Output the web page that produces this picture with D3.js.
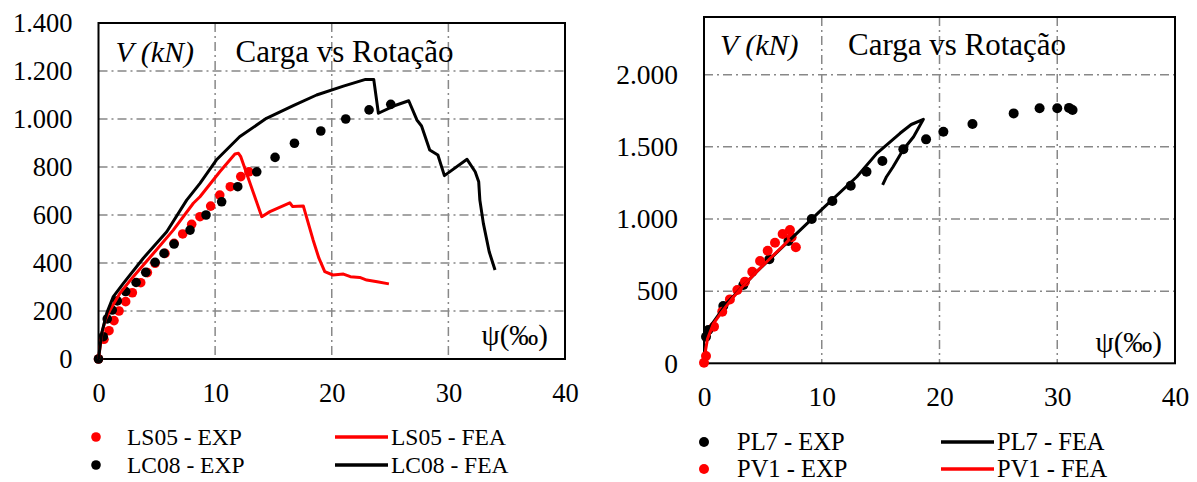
<!DOCTYPE html>
<html>
<head>
<meta charset="utf-8">
<script src="https://cdn.jsdelivr.net/npm/d3@7"></script>
<style>
  body { margin: 0; background: #fff; }
  svg { display: block; }
  text { font-family: "Liberation Serif", "Times New Roman", serif; fill: #000; }
</style>
</head>
<body>
<svg id="svg1" width="1197" height="482"></svg>
<script>
// ---- dados (psi em permilagem, V em kN) ----
var ls05Exp = [[0,0],[0.47,82],[0.9,118],[1.33,160],[1.76,200],[2.33,239],[2.9,276],[3.62,318],[4.19,360],[4.85,399],[5.7,440],[6.48,482],[7.22,521],[7.99,561],[8.7,593],[9.62,637],[10.4,683],[11.3,718],[12.2,760],[12.9,780]];
var lc08Exp = [[0,0],[0.41,93],[0.75,167],[1.18,204],[1.61,242],[2.33,281],[3.22,319],[4.05,361],[4.85,403],[5.62,440],[6.48,479],[7.85,537],[9.22,600],[10.56,655],[11.94,718],[13.57,780],[15.14,840],[16.8,899],[19.06,950],[21.2,1000],[23.2,1038],[25.06,1061]];
var ls05Fea = [[0,0],[0.3,110],[0.6,165],[0.99,204],[1.84,274],[2.98,343],[4.7,440],[6.41,537],[8.13,649],[8.7,676],[10.4,780],[11.7,854],[12.0,857],[12.2,843],[14.0,593],[14.7,614],[16.4,651],[16.65,635],[17.56,638],[18.4,496],[18.9,420],[19.4,364],[20.1,350],[21.0,354],[21.6,343],[22.4,340],[23.0,329],[23.9,322],[24.9,313]];
var lc08Fea = [[0,0],[0.27,107],[0.7,190],[1.27,260],[2.13,315],[3.84,420],[5.85,530],[7.56,662],[8.7,732],[10.1,829],[12.1,926],[14.4,1003],[16.7,1056],[18.7,1100],[21.0,1137],[22.9,1165],[23.6,1165],[24.0,1024],[25.3,1054],[26.6,1076],[27.3,996],[27.7,971],[28.4,871],[29.1,850],[29.66,764],[31.6,832],[32.3,780],[32.6,739],[32.7,662],[33.0,565],[33.5,447],[34.0,371]];

var pl7Exp = [[0.17,184],[0.37,231],[1.64,397],[3.34,543],[5.55,721],[7.17,847],[9.15,1000],[10.9,1125],[12.46,1231],[13.8,1328],[15.15,1402],[16.93,1483],[18.86,1552],[20.33,1605],[22.8,1658],[26.3,1732],[28.5,1767],[30.0,1767],[31.0,1770],[31.3,1755]];
var pv1Exp = [[0,4],[0.17,51],[0.85,254],[1.55,358],[2.2,443],[2.83,508],[3.48,566],[4.1,635],[4.76,709],[5.41,780],[6.03,836],[6.68,896],[7.3,924],[7.44,873],[7.8,804]];
var pl7Fea = [[0.1,170],[0.4,240],[1.93,416],[4.48,635],[7.3,855],[10.1,1074],[12.98,1293],[14.68,1455],[16.65,1594],[17.6,1655],[18.63,1691],[17.8,1570],[16.9,1478],[16.06,1362],[15.5,1293],[15.17,1236]];
var pv1Fea = [[0,0],[0.15,100],[0.3,170],[0.8,275],[1.5,355],[2.5,460],[3.5,552],[4.5,637],[5.5,718],[6.5,796],[7.3,862]];

var xTicks = [0, 10, 20, 30, 40];
var yTicksLeft = [0, 200, 400, 600, 800, 1000, 1200, 1400];
var yTicksRight = [0, 500, 1000, 1500, 2000];
var legendLeft = ["LS05 - EXP", "LC08 - EXP", "LS05 - FEA", "LC08 - FEA"];
var legendRight = ["PL7 - EXP", "PV1 - EXP", "PL7 - FEA", "PV1 - FEA"];

var ptBR = d3.formatLocale({decimal: ",", thousands: ".", grouping: [3], currency: ["R$", ""]});
var fmt = ptBR.format(",.0f");

var svg = d3.select("#svg1");

function drawChart(o){
    var g = svg.append("g").attr("transform", "translate(" + o.left + "," + o.top + ")");

    var scaleX = d3.scaleLinear().domain([0, 40]).range([0, o.w]);
    var scaleY = d3.scaleLinear().domain([0, o.ymax]).range([o.h, 0]);

    // grade
    var grid = g.append("g").attr("stroke", "#888").attr("stroke-width", 1.5).attr("stroke-dasharray", "9,4,2,4");
    grid.selectAll("line.gx").data(xTicks.slice(1, -1)).enter().append("line")
        .attr("x1", function(d){ return scaleX(d); }).attr("x2", function(d){ return scaleX(d); })
        .attr("y1", 0).attr("y2", o.h);
    grid.selectAll("line.gy").data(o.yTicks.filter(function(d){ return d > 0 && d < o.ymax; })).enter().append("line")
        .attr("y1", function(d){ return scaleY(d); }).attr("y2", function(d){ return scaleY(d); })
        .attr("x1", 0).attr("x2", o.w);

    // eixos
    var axisY = d3.axisLeft(scaleY).tickValues(o.yTicks).tickFormat(fmt).tickSize(0).tickPadding(26);
    var gAxisY = g.append("g").call(axisY);
    gAxisY.select(".domain").remove();
    gAxisY.selectAll("text").attr("font-size", o.tickFont).style("font-family", "Liberation Serif");

    var axisX = d3.axisBottom(scaleX).tickValues(xTicks).tickSize(0).tickPadding(o.xPad);
    var gAxisX = g.append("g").attr("transform", "translate(0," + o.h + ")").call(axisX);
    gAxisX.select(".domain").remove();
    gAxisX.selectAll("text").attr("font-size", o.tickFont).style("font-family", "Liberation Serif");

    g.append("rect").attr("width", o.w).attr("height", o.h)
        .attr("fill", "none").attr("stroke", "#000").attr("stroke-width", 2);

    var line = d3.line().x(function(d){ return scaleX(d[0]); }).y(function(d){ return scaleY(d[1]); });

    o.series.forEach(function(s){
        if (s.type == "dot") {
            g.append("g").selectAll("circle").data(s.data).enter().append("circle")
                .attr("cx", function(d){ return scaleX(d[0]); })
                .attr("cy", function(d){ return scaleY(d[1]); })
                .attr("r", o.r).attr("fill", s.color);
        } else {
            g.append("path").datum(s.data).attr("d", line)
                .attr("fill", "none").attr("stroke", s.color).attr("stroke-width", 3)
                .attr("stroke-linejoin", "round");
        }
    });

    // textos
    g.append("text").attr("x", o.vx).attr("y", o.vy).attr("font-size", 30).attr("font-style", "italic").text("V (kN)");
    g.append("text").attr("x", o.tx).attr("y", o.vy).attr("font-size", 31).text("Carga vs Rotação");
    g.append("text").attr("x", o.w - o.psiR).attr("y", o.h - o.psiB).attr("font-size", 29)
        .attr("text-anchor", "end").text("ψ(‰)");

    // legenda
    var lg = svg.append("g");
    o.series.forEach(function(s, i){
        var col = Math.floor(i / 2), row = i % 2;
        var y = o.legY[row];
        if (s.type == "dot") {
            lg.append("circle").attr("cx", o.legDot).attr("cy", y).attr("r", o.r).attr("fill", s.color);
            lg.append("text").attr("x", o.legText).attr("y", y).attr("dy", "0.33em").attr("font-size", o.legFont).text(o.names[i]);
        } else {
            lg.append("line").attr("x1", o.legLine[0]).attr("x2", o.legLine[1]).attr("y1", y).attr("y2", y)
                .attr("stroke", s.color).attr("stroke-width", 3.5);
            lg.append("text").attr("x", o.legLine[1] + 3).attr("y", y).attr("dy", "0.33em").attr("font-size", o.legFont).text(o.names[i]);
        }
    });
}

drawChart({
    left: 98.5, top: 23, w: 466.5, h: 336, ymax: 1400, yTicks: yTicksLeft,
    tickFont: 26.5, xPad: 24, r: 4.8,
    vx: 17, vy: 39, tx: 137, psiR: 17, psiB: 14,
    series: [
        {type: "dot", color: "#ff0000", data: ls05Exp},
        {type: "dot", color: "#000", data: lc08Exp},
        {type: "line", color: "#ff0000", data: ls05Fea},
        {type: "line", color: "#000", data: lc08Fea}
    ],
    names: legendLeft, legY: [437, 465], legDot: 96, legText: 127, legLine: [335, 388], legFont: 23.5
});

drawChart({
    left: 704, top: 17, w: 471, h: 346.3, ymax: 2400, yTicks: yTicksRight,
    tickFont: 27.5, xPad: 23, r: 5,
    vx: 16, vy: 38, tx: 144, psiR: 13, psiB: 11,
    series: [
        {type: "dot", color: "#000", data: pl7Exp},
        {type: "dot", color: "#ff0000", data: pv1Exp},
        {type: "line", color: "#000", data: pl7Fea},
        {type: "line", color: "#ff0000", data: pv1Fea}
    ],
    names: legendRight, legY: [442, 469], legDot: 704, legText: 737, legLine: [941, 994], legFont: 24.5
});
</script>
</body>
</html>
